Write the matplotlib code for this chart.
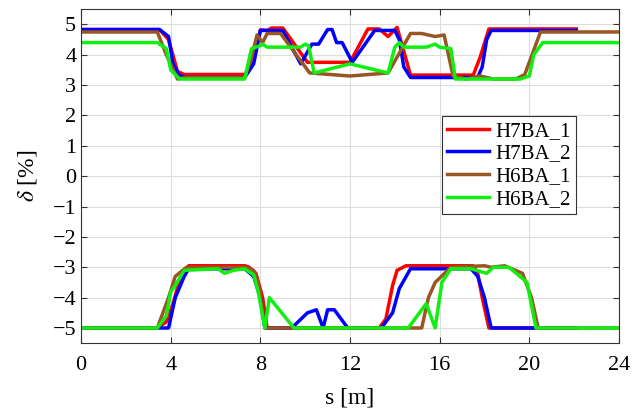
import matplotlib
matplotlib.use('Agg')
import matplotlib.pyplot as plt

# positive momentum acceptance (upper branch) and negative (lower branch)
h7ba1_top_s = [0, 3.5, 3.9, 4.3, 4.6, 7.3, 7.7, 8.0, 8.3, 8.5, 9.0, 10.1, 12.0, 12.8, 13.3, 13.7, 14.1, 14.7, 17.5, 17.8, 18.2, 22.1]
h7ba1_top_d = [4.83, 4.83, 4.5, 3.45, 3.35, 3.35, 3.8, 4.82, 4.8, 4.88, 4.88, 3.75, 3.75, 4.85, 4.85, 4.6, 4.9, 3.33, 3.33, 3.9, 4.85, 4.85]
h7ba1_bot_s = [0, 3.4, 3.8, 4.1, 4.4, 4.8, 7.3, 7.5, 7.8, 8.1, 8.3, 13.3, 13.6, 13.9, 14.1, 14.5, 17.5, 17.7, 17.9, 18.2, 22.1]
h7ba1_bot_d = [-5, -5, -4.8, -4.2, -3.4, -2.95, -2.95, -3.0, -3.2, -4.0, -5, -5, -4.7, -3.6, -3.1, -2.95, -2.95, -3.2, -4.0, -5, -5]

h7ba2_top_s = [0, 3.5, 3.9, 4.1, 4.4, 4.7, 7.3, 7.7, 8.0, 9.0, 9.8, 10.3, 10.6, 11.0, 11.2, 11.4, 11.65, 12.1, 13.1, 14.0, 14.2, 14.4, 14.7, 17.7, 17.9, 18.1, 18.3, 22.1]
h7ba2_top_d = [4.83, 4.83, 4.6, 3.7, 3.3, 3.25, 3.25, 3.7, 4.8, 4.8, 3.7, 4.35, 4.35, 4.83, 4.83, 4.4, 4.4, 3.75, 4.8, 4.8, 4.5, 3.6, 3.25, 3.25, 3.6, 4.5, 4.8, 4.8]
h7ba2_bot_s = [0, 3.9, 4.2, 4.6, 4.8, 7.3, 7.7, 8.0, 8.2, 9.4, 10.1, 10.5, 10.8, 11.0, 11.3, 11.9, 13.4, 13.9, 14.2, 14.7, 17.4, 17.7, 18.0, 18.3, 22.1]
h7ba2_bot_d = [-5, -5, -4.0, -3.3, -3.05, -3.05, -3.3, -4.0, -5, -5, -4.5, -4.4, -5, -4.4, -4.4, -5, -5, -4.5, -3.7, -3.05, -3.05, -3.3, -4.0, -5, -5]

h6ba1_top_s = [0, 3.4, 3.8, 4.3, 4.6, 7.3, 7.6, 7.85, 8.1, 8.3, 8.9, 10.2, 12.0, 13.7, 14.7, 15.2, 15.8, 16.2, 16.6, 17.2, 17.8, 18.4, 19.4, 19.8, 20.5, 24]
h6ba1_top_d = [4.75, 4.75, 4.0, 3.2, 3.25, 3.25, 3.9, 4.65, 4.4, 4.7, 4.7, 3.4, 3.3, 3.4, 4.7, 4.7, 4.6, 4.65, 3.3, 3.2, 3.3, 3.2, 3.2, 3.35, 4.75, 4.75]
h6ba1_bot_s = [0, 3.4, 3.9, 4.2, 4.7, 7.3, 7.7, 7.9, 8.2, 15.2, 15.5, 15.8, 16.5, 18.0, 18.3, 18.9, 19.7, 20.1, 20.4, 24]
h6ba1_bot_d = [-5, -5, -4.0, -3.3, -3.0, -3.0, -3.1, -3.5, -5, -5, -4.0, -3.5, -3.0, -2.95, -3.0, -2.95, -3.2, -4.0, -5, -5]

h6ba2_top_s = [0, 3.4, 3.8, 4.0, 4.4, 7.3, 7.6, 8.0, 8.1, 8.3, 9.8, 10.0, 10.15, 10.4, 12.0, 13.7, 14.0, 14.2, 14.4, 15.4, 15.8, 16.0, 16.5, 16.7, 19.6, 20.0, 20.2, 20.6, 24]
h6ba2_top_d = [4.4, 4.4, 4.2, 3.5, 3.2, 3.2, 4.2, 4.3, 4.35, 4.25, 4.25, 4.35, 4.3, 3.4, 3.7, 3.4, 4.25, 4.4, 4.25, 4.25, 4.35, 4.25, 4.2, 3.2, 3.2, 3.3, 4.0, 4.4, 4.4]
h6ba2_bot_s = [0, 3.4, 3.8, 4.0, 4.2, 4.6, 6.1, 6.4, 6.8, 7.3, 7.7, 7.9, 8.1, 8.2, 8.4, 9.5, 14.6, 15.4, 15.8, 16.1, 16.5, 17.4, 18.1, 18.4, 19.1, 19.9, 20.3, 24]
h6ba2_bot_d = [-5, -5, -4.6, -3.8, -3.6, -3.1, -3.05, -3.2, -3.1, -3.05, -3.25, -3.8, -4.6, -5, -4.0, -5, -5, -4.2, -5, -3.5, -3.05, -3.05, -3.2, -3.0, -3.0, -3.5, -5, -5]

labels = ['H7BA_1', 'H7BA_2', 'H6BA_1', 'H6BA_2']
colors = ['#ff0000', '#0000ff', '#995522', '#11ee11']

plt.rcParams['font.family'] = ['Liberation Serif', 'DejaVu Serif']
plt.rcParams['mathtext.fontset'] = 'stix'

fig = plt.figure(figsize=(6.44, 4.18), dpi=100)
ax = fig.add_axes([0.126, 0.179, 0.835, 0.799])

series = [
    (h7ba1_top_s, h7ba1_top_d, h7ba1_bot_s, h7ba1_bot_d),
    (h7ba2_top_s, h7ba2_top_d, h7ba2_bot_s, h7ba2_bot_d),
    (h6ba1_top_s, h6ba1_top_d, h6ba1_bot_s, h6ba1_bot_d),
    (h6ba2_top_s, h6ba2_top_d, h6ba2_bot_s, h6ba2_bot_d),
]
for (ts, td, bs, bd), lab, c in zip(series, labels, colors):
    ax.plot(ts, td, color=c, lw=2.5, label=lab)
    ax.plot(bs, bd, color=c, lw=2.5)

ax.set_xlim(0, 24)
ax.set_ylim(-5.5, 5.5)
ax.set_xticks(range(0, 25, 4))
ax.set_yticks(range(-5, 6))
ax.grid(True, color='#dddddd', lw=0.8)
ax.set_axisbelow(True)
ax.tick_params(direction='in', top=True, right=True, labelsize=16, length=4, color='#333333')
ax.tick_params(axis='x', pad=9)
for sp in ax.spines.values():
    sp.set_color('#333333')
ax.set_xlabel('s [m]', fontsize=17, labelpad=9)
ax.set_ylabel(r'$\delta$ [%]', fontsize=17, labelpad=10)

leg = ax.legend(loc='upper left', bbox_to_anchor=(0.671, 0.68), fontsize=15,
                frameon=True, fancybox=False, edgecolor='#333333', framealpha=1,
                handlelength=2.0, handletextpad=0.3, borderpad=0.25,
                labelspacing=0.15, borderaxespad=0)
leg.get_frame().set_linewidth(0.8)

fig.savefig('out.png', dpi=100)
